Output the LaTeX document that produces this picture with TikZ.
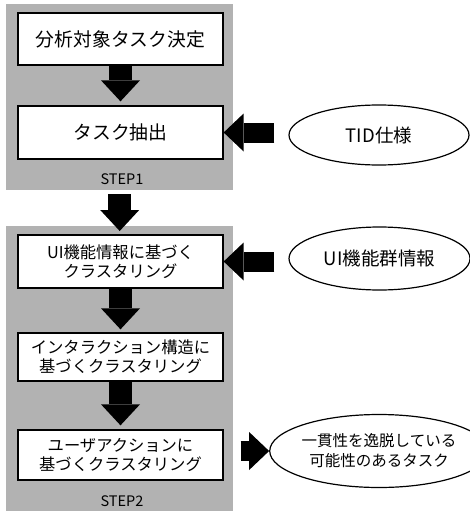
\documentclass[tikz,border=0pt]{standalone}
\usepackage{fontspec}
\newfontfamily\jp{Noto Sans CJK JP}
\usetikzlibrary{arrows.meta,shapes.geometric}
\begin{document}
\begin{tikzpicture}[x=1pt,y=-1pt,
  panel/.style={fill=black!30,draw=none,inner sep=0pt,minimum width=227pt,anchor=north west},
  stepbox/.style={draw,line width=1.3pt,fill=white,minimum width=205pt,inner sep=0pt,align=center,
    font=\jp\fontsize{16.3}{19.4}\selectfont},
  bigbox/.style={stepbox,font=\jp\fontsize{18.8}{22}\selectfont},
  steplabel/.style={font=\jp\fontsize{14.5}{16}\selectfont,inner sep=0pt},
  ell/.style={draw,ellipse,line width=1.2pt,inner sep=0pt,align=center},
  downarrow/.style={line width=23pt,-{Triangle[length=21pt 0 0,width=39pt 0 0,line width=0pt 0 0]}},
  sidearrow/.style={line width=20pt,-{Triangle[length=20pt 0 0,width=38pt 0 0,line width=0pt 0 0]}}]
\useasboundingbox (0,0) rectangle (470,511);
% panels
\node[panel,minimum height=186pt] (p1) at (6,4) {};
\node[panel,minimum height=285pt] (p2) at (6,226) {};
% step 1 boxes
\node[bigbox,minimum height=52pt] (b1) at (120.5,39) {分析対象タスク決定};
\node[bigbox,minimum height=53pt] (b2) at (120.5,132.5) {タスク抽出};
\node[steplabel] (s1) at (122,179) {STEP1};
% step 2 boxes
\node[stepbox,minimum height=53pt] (b3) at (120.5,261.5) {UI機能情報に基づく\\クラスタリング};
\node[stepbox,minimum height=48pt] (b4) at (120.5,357) {インタラクション構造に\\基づくクラスタリング};
\node[stepbox,minimum height=50pt] (b5) at (120.5,455) {ユーザアクションに\\基づくクラスタリング};
\node[steplabel] (s2) at (122,501) {STEP2};
% ellipses
\node[ell,minimum width=180pt,minimum height=60pt,font=\jp\fontsize{18.5}{22}\selectfont] (e1) at (379,135) {TID仕様};
\node[ell,minimum width=181pt,minimum height=63pt,font=\jp\fontsize{18.5}{22}\selectfont] (e2) at (379.5,258.5) {UI機能群情報};
\node[ell,minimum width=178pt,minimum height=73pt,font=\jp\fontsize{15.5}{20}\selectfont] (e3) at (379,451) {一貫性を逸脱している\\可能性のあるタスク};
% arrows
\draw[downarrow,shorten >=4pt] (b1.south) -- (b2.north);
\draw[downarrow,shorten <=4pt,shorten >=-5pt] (p1.south) -- (p2.north);
\draw[downarrow,shorten >=3pt] (b3.south) -- (b4.north);
\draw[downarrow,shorten >=4pt] (b4.south) -- (b5.north);
\draw[sidearrow,shorten <=14pt] (b2.east -| e1.west) -- (b2.east);
\draw[sidearrow,shorten <=14pt] (b3.east -| e2.west) -- (b3.east);
\draw[sidearrow,shorten <=17pt] (e3.west -| b5.east) -- (e3.west);
\end{tikzpicture}
\end{document}
